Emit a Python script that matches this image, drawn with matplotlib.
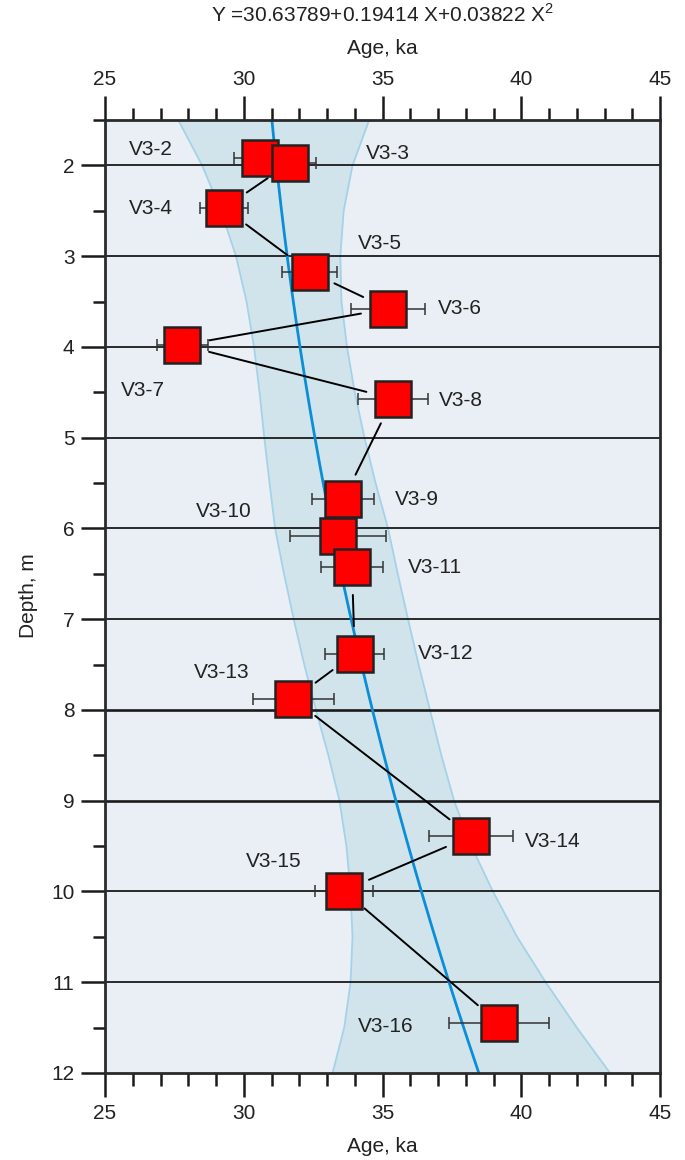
import numpy as np
import matplotlib
matplotlib.use("Agg")
import matplotlib.pyplot as plt
from matplotlib.ticker import MultipleLocator

plt.rcParams['font.family'] = ['Liberation Sans', 'DejaVu Sans']
plt.rcParams['mathtext.fontset'] = 'custom'
plt.rcParams['mathtext.rm'] = 'Liberation Sans'

# samples: name, age (ka), depth (m), age error (ka)
names = ["V3-2", "V3-3", "V3-4", "V3-5", "V3-6", "V3-7", "V3-8", "V3-9",
         "V3-10", "V3-11", "V3-12", "V3-13", "V3-14", "V3-15", "V3-16"]
ages = [30.59, 31.68, 29.29, 32.37, 35.2, 27.79, 35.38, 33.59,
        33.39, 33.9, 34.0, 31.79, 38.2, 33.6, 39.19]
depths = [1.92, 1.97, 2.47, 3.17, 3.58, 3.98, 4.57, 5.68,
          6.08, 6.43, 7.38, 7.88, 9.39, 9.99, 11.45]
age_err = [0.94, 0.91, 0.85, 1.0, 1.32, 0.91, 1.25, 1.12,
           1.74, 1.1, 1.07, 1.46, 1.51, 1.04, 1.8]

# label offsets from marker (pixels, +y down) and alignment
label_dx = [-109, 76, -73, 48, 50, -40, 46, 52, -114, 56, 63, -72, 54, -70, -113]
label_dy = [-9, -9, 0, -28, 0, 45, 2, 0, -24, 0, 0, -27, 5, -29, 3]
label_ha = ["center", "left", "center", "left", "left", "center", "left", "left",
            "center", "left", "left", "center", "left", "center", "center"]

# fit: Y = c0 + c1 X + c2 X^2  (X depth, Y age)
fit_coef = [30.63789, 0.19414, 0.03822]

# confidence band
band_depth = [1.5, 2.0, 2.5, 3.0, 3.5, 4.0, 4.5, 5.0, 5.5, 6.0, 6.5, 7.0, 7.5,
              8.0, 8.5, 9.0, 9.5, 10.0, 10.5, 11.0, 11.5, 12.0]
band_left = [27.64, 28.5, 29.18, 29.72, 30.1, 30.37, 30.57, 30.74, 30.93, 31.13,
             31.45, 31.8, 32.18, 32.6, 33.05, 33.45, 33.7, 33.85, 33.92, 33.85,
             33.62, 33.2]
band_right = [34.52, 33.92, 33.6, 33.48, 33.52, 33.72, 34.0, 34.35, 34.75, 35.2,
              35.55, 35.92, 36.3, 36.71, 37.12, 37.58, 38.2, 38.98, 39.85, 40.88,
              42.0, 43.2]

grid_depths = [2, 3, 4, 5, 6, 7, 8, 9, 10, 11]
thick_grid = [8, 9]

W, H = 685, 1160
fig = plt.figure(figsize=(W / 100, H / 100), dpi=100)
ax = fig.add_axes([105 / W, 1 - 1073 / H, 555 / W, 953 / H])
ax.set_facecolor('#e9eff4')
ax.set_xlim(25, 45)
ax.set_ylim(12, 1.5)

# band
ax.fill_betweenx(band_depth, band_left, band_right, color='#d2e4eb', lw=0, zorder=1)
ax.plot(band_left, band_depth, color='#a5d2e8', lw=1.3, zorder=1.5)
ax.plot(band_right, band_depth, color='#a5d2e8', lw=1.3, zorder=1.5)

# horizontal lines
for d in grid_depths:
    ax.axhline(d, color='#1a1a1a', lw=1.9 if d in thick_grid else 1.3, zorder=2)

# fit line
zz = np.linspace(1.5, 12, 200)
ax.plot(np.polyval(fit_coef[::-1], zz), zz, color='#0a8ed8', lw=2.0, zorder=3)

# connecting lines, shortened near the squares
shrink = 19.8
pts = ax.transData.transform(np.column_stack([ages, depths]))
for i in range(len(ages) - 1):
    dist = np.hypot(*(pts[i + 1] - pts[i]))
    if dist < 2 * shrink / 0.72 + 2:
        continue
    ax.annotate('', xy=(ages[i + 1], depths[i + 1]), xytext=(ages[i], depths[i]),
                arrowprops=dict(arrowstyle='-', color='black', lw=1.4,
                                shrinkA=shrink, shrinkB=shrink),
                zorder=4)

ax.errorbar(ages, depths, xerr=age_err, fmt='none', ecolor='#333333',
            elinewidth=1.1, capsize=4.3, capthick=1.1, zorder=5)
ax.plot(ages, depths, 's', ms=26, mfc='#ff0000', mec='#222222', mew=1.8,
        ls='none', zorder=6)

for n, a, d, dx, dy, ha in zip(names, ages, depths, label_dx, label_dy, label_ha):
    ax.annotate(n, (a, d), xytext=(dx * 0.72, -dy * 0.72), textcoords='offset points',
                ha=ha, va='center', fontsize=15, color='#222222', zorder=7)

# axes styling
for s in ax.spines.values():
    s.set_color('#2a2a2a')
    s.set_linewidth(2)
    s.set_zorder(8)
ax.xaxis.set_major_locator(MultipleLocator(5))
ax.xaxis.set_minor_locator(MultipleLocator(1))
ax.yaxis.set_major_locator(MultipleLocator(1))
ax.yaxis.set_minor_locator(MultipleLocator(0.5))
ax.tick_params(which='both', direction='out', width=1.8, color='#1a1a1a',
               top=True, bottom=True, left=True, right=False,
               labeltop=True, labelbottom=True, labelsize=15, labelcolor='#222222')
ax.tick_params(which='major', length=17, pad=5)
ax.tick_params(which='minor', length=9)

fig.text(0.5 * (105 + 660) / W, 1 - 15 / H,
         r'Y =30.63789+0.19414 X+0.03822 X$^{\mathrm{2}}$',
         ha='center', va='center', fontsize=15, color='#222222')
fig.text(0.5 * (105 + 660) / W, 1 - 49 / H, 'Age, ka', ha='center', va='center',
         fontsize=15, color='#222222')
fig.text(0.5 * (105 + 660) / W, 1 - 1146 / H, 'Age, ka', ha='center', va='center',
         fontsize=15, color='#222222')
fig.text(28 / W, 1 - 596 / H, 'Depth, m', ha='center', va='center', rotation=90,
         fontsize=15, color='#222222')

fig.savefig('out.png', dpi=100)
